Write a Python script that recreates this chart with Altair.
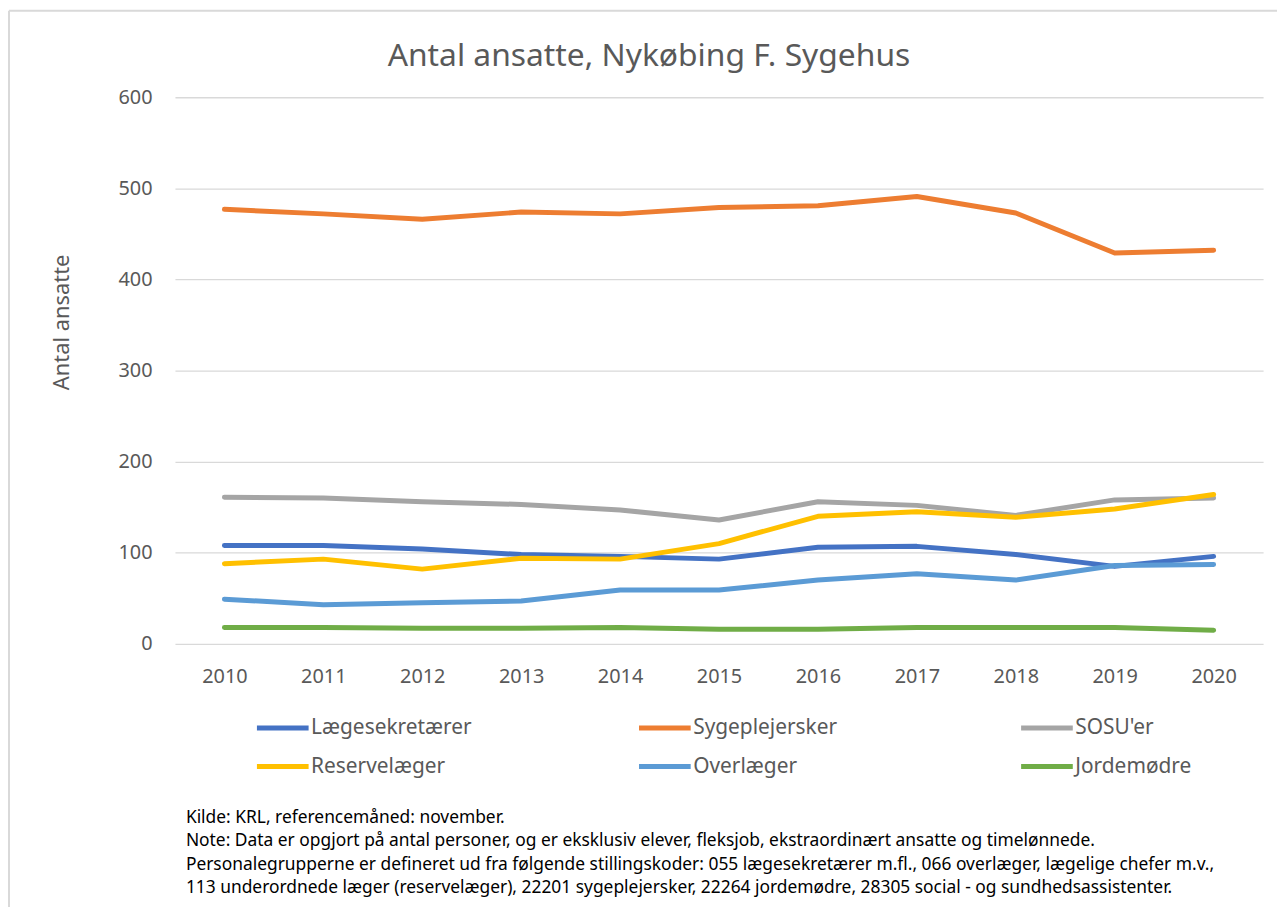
import altair as alt
import pandas as pd

years = ["2010", "2011", "2012", "2013", "2014", "2015", "2016", "2017", "2018", "2019", "2020"]
series_names = ["Lægesekretærer", "Sygeplejersker", "SOSU'er", "Reservelæger", "Overlæger", "Jordemødre"]
laegesekretaerer = [108, 108, 104, 98, 96, 93, 106, 107, 98, 85, 96]
sygeplejersker = [477, 472, 466, 474, 472, 479, 481, 491, 473, 429, 432]
sosu = [161, 160, 156, 153, 147, 136, 156, 152, 141, 158, 160]
reservelaeger = [88, 93, 82, 94, 93, 110, 140, 145, 139, 148, 164]
overlaeger = [49, 43, 45, 47, 59, 59, 70, 77, 70, 86, 87]
jordemoedre = [18, 18, 17, 17, 18, 16, 16, 18, 18, 18, 15]
colors = ["#4472C4", "#ED7D31", "#A5A5A5", "#FFC000", "#5B9BD5", "#70AD47"]
y_ticks = [0, 100, 200, 300, 400, 500, 600]

title_text = "Antal ansatte, Nykøbing F. Sygehus"
y_title = "Antal ansatte"
note_text = "\n".join([
    "Kilde: KRL, referencemåned: november.",
    "Note: Data er opgjort på antal personer, og er eksklusiv elever, fleksjob, ekstraordinært ansatte og timelønnede.",
    "Personalegrupperne er defineret ud fra følgende stillingskoder: 055 lægesekretærer m.fl., 066 overlæger, lægelige chefer m.v.,",
    "113 underordnede læger (reservelæger), 22201 sygeplejersker, 22264 jordemødre, 28305 social - og sundhedsassistenter.",
])

all_values = [laegesekretaerer, sygeplejersker, sosu, reservelaeger, overlaeger, jordemoedre]
rows = []
for si, (name, vals) in enumerate(zip(series_names, all_values)):
    for y, v in zip(years, vals):
        rows.append({"År": y, "Antal": v, "Gruppe": name, "order": si})
df = pd.DataFrame(rows)

FONT = "Noto Sans"
GREY = "#595959"

lines = alt.Chart(df).mark_line(strokeWidth=5, strokeCap="round", strokeJoin="round").encode(
    x=alt.X("År:O", scale=alt.Scale(type="point", padding=0.5),
            axis=alt.Axis(title=None, labelAngle=0, ticks=False, domain=False, grid=False,
                          labelPadding=23, labelFontSize=20, labelColor=GREY, labelFont=FONT)),
    y=alt.Y("Antal:Q", scale=alt.Scale(domain=[0, 600], nice=False),
            axis=alt.Axis(title=y_title, values=y_ticks, ticks=False, domain=False,
                          gridColor="#d9d9d9", gridWidth=1.3,
                          labelPadding=23, labelFontSize=20, labelColor=GREY, labelFont=FONT,
                          titleFont=FONT, titleFontSize=22, titleFontWeight="normal", titleColor=GREY,
                          titleX=-114, titleY=226, titleAngle=270, titleAlign="center",
                          titleBaseline="middle")),
    color=alt.Color("Gruppe:N", scale=alt.Scale(domain=series_names, range=colors),
                    legend=alt.Legend(title=None, orient="none", legendX=80, legendY=606,
                                      columns=3, direction="horizontal", gridAlign="all",
                                      columnPadding=157.5, rowPadding=-14,
                                      symbolType="stroke", symbolSize=2704, symbolStrokeWidth=5,
                                      labelFontSize=21, labelColor=GREY, labelFont=FONT,
                                      labelOffset=0, labelLimit=400)),
    detail="order:O",
    order="order:O",
)

title = alt.Chart(pd.DataFrame({"t": [title_text]})).mark_text(
    align="center", baseline="alphabetic", fontSize=32, font=FONT, color=GREY
).encode(x=alt.value(477), y=alt.value(-31), text="t:N")

note = alt.Chart(pd.DataFrame({"t": [note_text]})).mark_text(
    align="left", baseline="alphabetic", lineBreak="\n", lineHeight=23.7,
    fontSize=17.5, font=FONT, color="#000000"
).encode(x=alt.value(11), y=alt.value(730), text="t:N")

border_top = alt.Chart(pd.DataFrame({"a": [0]})).mark_rule(color="#d9d9d9", strokeWidth=2).encode(
    x=alt.value(-167), x2=alt.value(1120), y=alt.value(-87))
border_left = alt.Chart(pd.DataFrame({"a": [0]})).mark_rule(color="#d9d9d9", strokeWidth=2).encode(
    x=alt.value(-167), y=alt.value(-87), y2=alt.value(840))

chart = alt.layer(border_top, border_left, lines, title, note).properties(
    width=1095, height=550,
    padding={"left": 168, "top": 87, "right": 14, "bottom": 262},
    autosize=alt.AutoSizeParams(type="none"),
).configure_view(stroke=None)

chart.save("out.html", embed_options={"renderer": "svg", "actions": False})
